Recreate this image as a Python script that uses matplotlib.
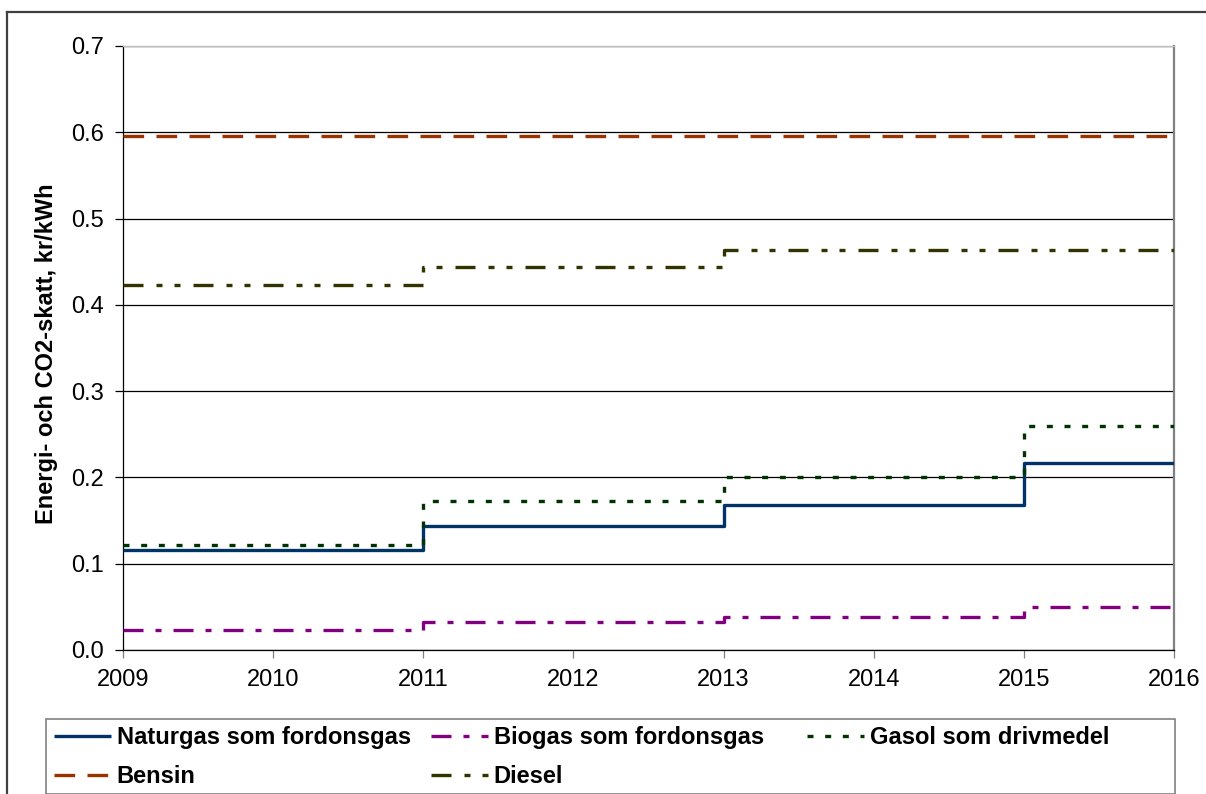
import matplotlib
matplotlib.use("Agg")
import matplotlib.pyplot as plt
from matplotlib.lines import Line2D
from matplotlib.patches import Rectangle

# ---- data ----
years = [2009, 2011, 2013, 2015, 2016]
naturgas = [0.116, 0.144, 0.168, 0.217, 0.217]
biogas = [0.023, 0.032, 0.038, 0.050, 0.050]
gasol = [0.122, 0.173, 0.201, 0.260, 0.260]
bensin = [0.596, 0.596, 0.596, 0.596, 0.596]
diesel = [0.423, 0.444, 0.463, 0.463, 0.463]

labels = ["Naturgas som fordonsgas", "Biogas som fordonsgas",
          "Gasol som drivmedel", "Bensin", "Diesel"]
xticks = [2009, 2010, 2011, 2012, 2013, 2014, 2015, 2016]
yticks = [0.0, 0.1, 0.2, 0.3, 0.4, 0.5, 0.6, 0.7]
ylabel = "Energi- och CO2-skatt, kr/kWh"

plt.rcParams['font.family'] = ['Liberation Sans', 'DejaVu Sans']

W, H = 1206, 794
fig = plt.figure(figsize=(W / 100, H / 100), dpi=100)
ax = fig.add_axes([123 / W, 1 - 650 / H, (1174 - 123) / W, (650 - 46) / H])

lw = 2.4
styles = [
    dict(color="#003366", linestyle="-"),
    dict(color="#800080", linestyle=(0, (6.0, 3.6, 1.8, 3.6))),
    dict(color="#003300", linestyle=(0, (1.8, 3.5))),
    dict(color="#993300", linestyle=(0, (6.2, 3.7))),
    dict(color="#333300", linestyle=(0, (6.0, 3.9, 1.8, 3.6, 1.8, 3.9))),
]
series = [naturgas, biogas, gasol, bensin, diesel]
handles = []
for vals, lab, st in zip(series, labels, styles):
    h, = ax.step(years, vals, where="post", lw=lw, label=lab,
                 dash_capstyle="butt", solid_capstyle="butt", zorder=3, **st)
    handles.append(h)

ax.set_xlim(2009, 2016)
ax.set_ylim(0, 0.7)
ax.set_xticks(xticks)
ax.set_xticklabels([str(x) for x in xticks])
ax.set_yticks(yticks)
ax.set_yticklabels([f"{y:.1f}" for y in yticks])

ax.yaxis.grid(True, color="black", lw=0.9, zorder=1)
ax.set_axisbelow(True)

for s in ["left", "bottom"]:
    ax.spines[s].set_color("black")
    ax.spines[s].set_linewidth(0.9)
ax.spines["right"].set_color("#808080")
ax.spines["right"].set_linewidth(1.6)
ax.spines["top"].set_color("#c0c0c0")
ax.spines["top"].set_linewidth(1.0)

ax.tick_params(axis="both", direction="out", length=5.5, width=0.9,
               labelsize=17, pad=8, colors="black")
ax.tick_params(axis="x", color="#808080")

ax.set_ylabel(ylabel, fontsize=17, fontweight="bold")
ax.yaxis.set_label_coords(-0.062, 0.49)

# ---- legend: three columns placed like the original, one shared frame ----
fig.add_artist(Rectangle((46 / W, 0), (1175 - 46) / W, 1 - 719 / H,
                         transform=fig.transFigure, facecolor="white",
                         edgecolor="#808080", lw=1.2, zorder=0))
columns = [([handles[0], handles[3]], [labels[0], labels[3]], 54),
           ([handles[1], handles[4]], [labels[1], labels[4]], 431),
           ([handles[2]], [labels[2]], 807)]
for hs, ls, x0 in columns:
    lg = fig.legend(handles=hs, labels=ls, loc="upper left",
                    bbox_to_anchor=(x0 / W, 1 - 726 / H),
                    prop=dict(size=17, weight="bold"), frameon=False,
                    borderaxespad=0, borderpad=0, handlelength=2.4,
                    handletextpad=0.25, labelspacing=0.68)
    lg.set_zorder(2)

# outer chart border
fig.add_artist(Line2D([7 / W, 7 / W], [0, 1 - 12 / H], transform=fig.transFigure,
                      color="#404040", lw=1.6))
fig.add_artist(Line2D([7 / W, 1], [1 - 12 / H, 1 - 12 / H], transform=fig.transFigure,
                      color="#404040", lw=1.6))

fig.savefig("out.png", dpi=100)
